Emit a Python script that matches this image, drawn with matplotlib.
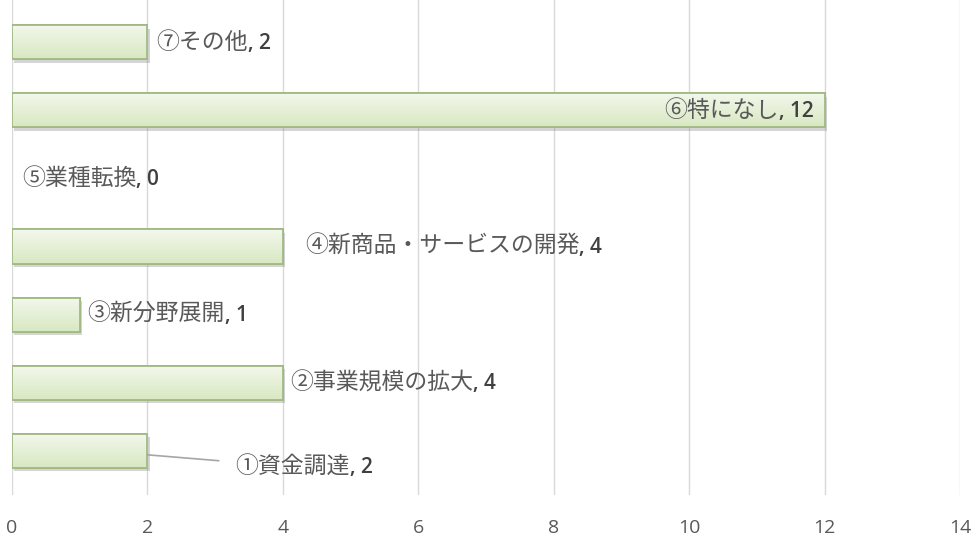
import matplotlib
matplotlib.use("Agg")
import matplotlib.pyplot as plt
import matplotlib.patheffects as pe
from matplotlib.colors import LinearSegmentedColormap
import numpy as np

plt.rcParams['font.family'] = ['Noto Sans CJK JP', 'DejaVu Sans']

categories = ["①資金調達", "②事業規模の拡大", "③新分野展開", "④新商品・サービスの開発",
              "⑤業種転換", "⑥特になし", "⑦その他"]
values = [2, 4, 1, 4, 0, 12, 2]
xticks = [0, 2, 4, 6, 8, 10, 12, 14]

fig = plt.figure(figsize=(9.73, 5.4), dpi=100)
ax = fig.add_axes([12/973, 1 - 495/540, 948/973, 495/540])

y = np.arange(len(categories))
edge = "#a2b985"
lws = [1.3 if v > 0 else 0 for v in values]
bars = ax.barh(y, values, height=0.5, color="#e4efd6", edgecolor=edge, linewidth=lws, zorder=3,
               path_effects=[pe.SimplePatchShadow(offset=(1.5, -2.5), shadow_rgbFace="#888888", alpha=0.35),
                             pe.Normal()])

grad = np.linspace(0, 1, 64).reshape(-1, 1)
cmap = LinearSegmentedColormap.from_list("g", ["#d8e8c2", "#f3f8ec"])
for b in bars:
    if b.get_width() <= 0:
        continue
    x0, y0, w, h = b.get_x(), b.get_y(), b.get_width(), b.get_height()
    im = ax.imshow(grad, extent=(x0, x0 + w, y0, y0 + h), cmap=cmap, aspect="auto",
                   origin="lower", zorder=3.5, interpolation="bicubic")
    im.set_clip_path(b)
    ax.add_patch(plt.Rectangle((x0, y0), w, h, fill=False, edgecolor=edge, linewidth=1.3, zorder=4))

ax.set_xlim(0, 14)
ax.set_ylim(-0.65, 6.62)
ax.set_xticks(xticks)
ax.set_xticklabels([str(t) for t in xticks], fontsize=14, color="#595959", family="Open Sans")
ax.set_yticks([])
ax.grid(axis="x", color="#d9d9d9", linewidth=1, zorder=0)
for s in ax.spines.values():
    s.set_visible(False)
ax.tick_params(axis="x", length=0, pad=17)
ax.set_aspect("auto")

tc = "#595959"
nc = "#404040"
fs = 16.5
nfs = 15

def lab(i, dx_px, dy_px=0, ha="left", leader=False):
    kw = dict(xy=(values[i], y[i]), xytext=(dx_px, dy_px), textcoords="offset pixels",
              ha="left", va="center", fontsize=fs, color=tc, zorder=6)
    if leader:
        kw["xy"] = (values[i], y[i] - 0.06)
        kw["arrowprops"] = dict(arrowstyle="-", color="#a6a6a6", lw=1.2, shrinkA=10, shrinkB=0)
    if ha == "right":
        num = ax.annotate(f", {values[i]}", xy=(values[i], y[i]), xytext=(dx_px, dy_px - 1),
                          textcoords="offset pixels", ha="right", va="center",
                          fontsize=nfs, color=nc, family="Open Sans", fontweight="semibold", zorder=6)
        ax.annotate(categories[i], xy=(0, 0.5), xycoords=num, xytext=(0, 1),
                    textcoords="offset pixels", ha="right", va="center",
                    fontsize=fs, color=tc, zorder=6)
    else:
        t = ax.annotate(categories[i], **kw)
        ax.annotate(f", {values[i]}", xy=(1, 0.5), xycoords=t, xytext=(0, -1),
                    textcoords="offset pixels", ha="left", va="center",
                    fontsize=nfs, color=nc, family="Open Sans", fontweight="semibold", zorder=6)

lab(6, 9)
lab(5, -11, ha="right")
lab(4, 10)
lab(3, 22)
lab(2, 8)
lab(1, 7)
lab(0, 88, dy_px=-12, leader=True)

fig.savefig("out.png", dpi=100)
